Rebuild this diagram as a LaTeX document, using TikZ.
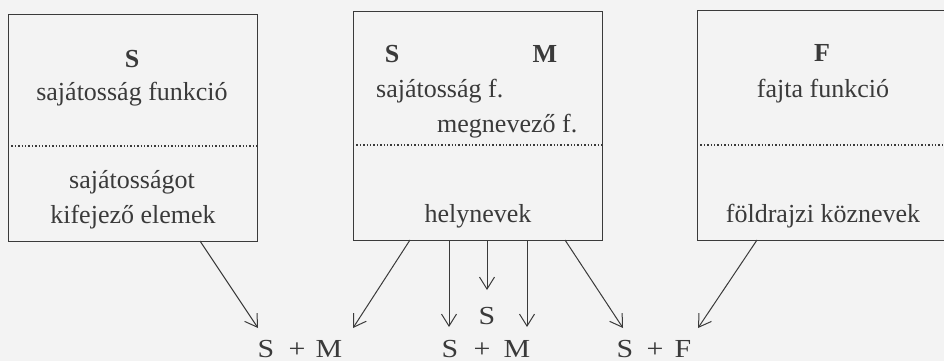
\documentclass[tikz,border=0pt]{standalone}
\usepackage{fontspec}
\setmainfont{Liberation Serif}
\usetikzlibrary{arrows.meta}
\definecolor{ink}{HTML}{3A3A3A}
\definecolor{paper}{HTML}{F3F3F3}
\begin{document}
\begin{tikzpicture}[x=1pt,y=-1pt,
  box/.style={draw=ink, line width=1.2pt, rectangle, anchor=north west, inner sep=0pt},
  sep/.style={draw=ink, line width=1.3pt, dash pattern=on 1.3pt off 2.1pt},
  txt/.style={text=ink, font=\fontsize{26}{30}\selectfont, inner sep=0pt, anchor=base},
  btxt/.style={txt, font=\fontsize{26}{30}\selectfont\bfseries},
  ltxt/.style={txt, font=\fontsize{26}{30}\selectfont, xscale=1.15},
  arr/.style={draw=ink, line width=1pt, -{Straight Barb[length=12pt,width=15pt,line width=1pt]}}]
\clip (0,0) rectangle (944,361);
\fill[paper] (0,0) rectangle (944,361);
% boxes
\node[box, minimum width=249pt, minimum height=227pt] (b1) at (8,14) {};
\node[box, minimum width=249pt, minimum height=229pt] (b2) at (353,11) {};
\node[box, minimum width=270pt, minimum height=230pt] (b3) at (697,10) {};
% dotted separators
\draw[sep] (b1.west |- 0,146) -- (b1.east |- 0,146);
\draw[sep] (b2.west |- 0,145) -- (b2.east |- 0,145);
\draw[sep] (b3.west |- 0,145) -- (b3.east |- 0,145);
% box 1 texts
\node[btxt] (s1) at (132,67) {S};
\node[txt] (f1) at (132,100) {sajátosság funkció};
\node[txt] (e1) at (132,188) {sajátosságot};
\node[txt] (e2) at (133,223) {kifejező elemek};
% box 2 texts
\node[btxt] (s2) at (392,63) {S};
\node[btxt] (m2) at (545,63) {M};
\node[txt, anchor=base west] (f2) at (376,97) {sajátosság f.};
\node[txt, anchor=base west] (g2) at (437,132) {megnevező f.};
\node[txt] (h2) at (478,222) {helynevek};
% box 3 texts
\node[btxt] (f3) at (822,62) {F};
\node[txt] (ff3) at (823,97) {fajta funkció};
\node[txt] (k3) at (823,222) {földrajzi köznevek};
% bottom labels
\node[ltxt] (la) at (266,357) {S};
\node[ltxt] (lp) at (297,357) {+};
\node[ltxt] (lb) at (329,357) {M};
\node[ltxt] (ma) at (450,357) {S};
\node[ltxt] (mp) at (482,357) {+};
\node[ltxt] (mb) at (517,357) {M};
\node[ltxt] (ms) at (487,324) {S};
\node[ltxt] (ra) at (625,357) {S};
\node[ltxt] (rp) at (655,357) {+};
\node[ltxt] (rb) at (683,357) {F};
% arrow start and end points
\coordinate (a1s) at (200,241);
\coordinate (a1e) at (258,328);
\coordinate (a2s) at (410,240);
\coordinate (a2e) at (353,328);
\coordinate (a3s) at (449,240);
\coordinate (a3e) at (449,327);
\coordinate (a4s) at (487,240);
\coordinate (a4e) at (487,290);
\coordinate (a5s) at (527,240);
\coordinate (a5e) at (527,327);
\coordinate (a6s) at (565,240);
\coordinate (a6e) at (623,328);
\coordinate (a7s) at (757,240);
\coordinate (a7e) at (698,328);
\draw[arr] (a1s) -- (a1e);
\draw[arr] (a2s) -- (a2e);
\draw[arr] (a3s) -- (a3e);
\draw[arr] (a4s) -- (a4e);
\draw[arr] (a5s) -- (a5e);
\draw[arr] (a6s) -- (a6e);
\draw[arr] (a7s) -- (a7e);
\end{tikzpicture}
\end{document}
